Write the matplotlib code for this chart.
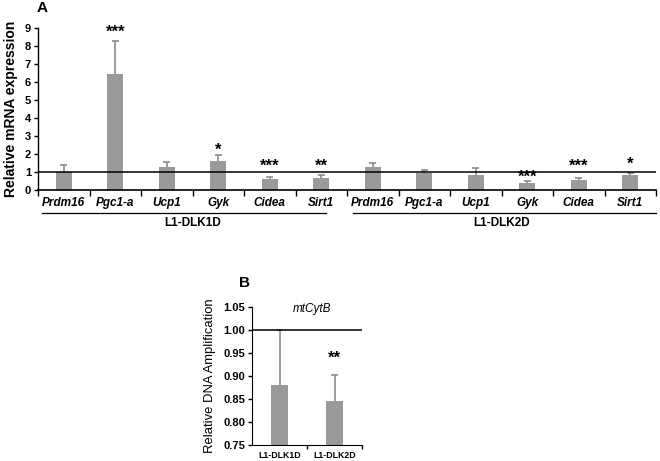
import matplotlib
matplotlib.use("Agg")
import matplotlib.pyplot as plt
import matplotlib.transforms as mtransforms
import numpy as np

plt.rcParams['font.family'] = ['Liberation Sans', 'DejaVu Sans']

genes = ["Prdm16", "Pgc1-a", "Ucp1", "Gyk", "Cidea", "Sirt1"]
groups = ["L1-DLK1D", "L1-DLK2D"]
dlk1_vals = [1.0, 6.45, 1.25, 1.6, 0.6, 0.68]
dlk1_err = [0.38, 1.85, 0.33, 0.35, 0.1, 0.14]
dlk1_sig = ["", "***", "", "*", "***", "**"]
dlk1_sig_y = [None, 8.85, None, 2.3, 1.39, 1.39]
dlk2_vals = [1.3, 0.93, 0.85, 0.4, 0.55, 0.85]
dlk2_err = [0.18, 0.17, 0.35, 0.1, 0.13, 0.09]
dlk2_sig = ["", "", "", "***", "***", "*"]
dlk2_sig_y = [None, None, None, 0.82, 1.39, 1.52]

b_labels = ["L1-DLK1D", "L1-DLK2D"]
b_vals = [0.88, 0.845]
b_err = [0.12, 0.057]
b_sig = ["", "**"]
b_sig_y = [None, 0.943]

bar_color = "#9a9a9a"
err_color = "#8c8c8c"

fig = plt.figure(figsize=(6.6, 4.61), dpi=100)


def up_errorbars(ax, xs, vals, errs, cap):
    xs = np.asarray(xs, dtype=float)
    tops = np.asarray(vals) + np.asarray(errs)
    ax.vlines(xs, vals, tops, color=err_color, lw=1.2, zorder=3)
    ax.hlines(tops, xs - cap / 2, xs + cap / 2, color=err_color, lw=1.2, zorder=3)


def stars(ax, xs, sigs, ys):
    for xi, s, yc in zip(xs, sigs, ys):
        if s and yc is not None:
            ax.annotate(s, (xi, yc), xytext=(0, -4.5), textcoords="offset points",
                        ha="center", va="baseline", fontsize=12, fontweight="bold")


# Panel A
axA = fig.add_axes([38 / 660, 1 - 190 / 461, 618 / 660, 162 / 461])
vals = dlk1_vals + dlk2_vals
errs = dlk1_err + dlk2_err
sigs = dlk1_sig + dlk2_sig
sig_y = dlk1_sig_y + dlk2_sig_y
labels = genes + genes
x = np.arange(len(vals))
axA.bar(x, vals, width=0.31, color=bar_color, zorder=2)
up_errorbars(axA, x, vals, errs, 0.13)
axA.axhline(1.0, color="black", lw=1.1, zorder=4)
stars(axA, x, sigs, sig_y)
axA.set_xlim(-0.47, 11.5)
axA.set_ylim(0, 9)
axA.set_yticks(range(0, 10))
axA.set_yticklabels([str(i) for i in range(0, 10)], fontsize=8, fontweight="bold")
axA.set_xticks(x)
axA.set_xticklabels(labels, fontsize=8.5, fontweight="bold", style="italic")
axA.tick_params(axis="x", which="major", length=0, pad=5)
axA.set_xticks(np.arange(-0.5, 12, 1.0), minor=True)
axA.tick_params(axis="x", which="minor", length=4, width=1, direction="out")
axA.tick_params(axis="y", length=3, width=1, pad=2)
for sp in ["top", "right"]:
    axA.spines[sp].set_visible(False)
axA.spines["left"].set_linewidth(1)
axA.spines["bottom"].set_linewidth(1.2)
axA.set_ylabel("Relative mRNA expression", fontsize=10, fontweight="bold", labelpad=5)
trans = mtransforms.blended_transform_factory(axA.transData, axA.transAxes)
axA.plot([-0.43, 5.1], [-0.142, -0.142], color="black", lw=0.9, transform=trans, clip_on=False)
axA.plot([5.62, 11.5], [-0.142, -0.142], color="black", lw=0.9, transform=trans, clip_on=False)
axA.text(2.5, -0.205, groups[0], transform=trans, ha="center", va="center", fontsize=8.5, fontweight="bold")
axA.text(8.5, -0.205, groups[1], transform=trans, ha="center", va="center", fontsize=8.5, fontweight="bold")
fig.text(37 / 660, 1 - 8 / 461, "A", fontsize=11, fontweight="bold", ha="left", va="center")

# Panel B
axB = fig.add_axes([252 / 660, 1 - 445 / 461, 110 / 660, 138 / 461])
xb = np.arange(len(b_vals))
axB.bar(xb, b_vals, width=0.3, color=bar_color, zorder=2)
up_errorbars(axB, xb, b_vals, b_err, 0.12)
axB.axhline(1.0, color="black", lw=1.1, zorder=4)
stars(axB, xb, b_sig, b_sig_y)
axB.text(0.6, 1.045, "mtCytB", ha="center", va="center", fontsize=8.5, style="italic")
axB.set_xlim(-0.5, 1.5)
axB.set_ylim(0.75, 1.05)
yt = [0.75, 0.80, 0.85, 0.90, 0.95, 1.00, 1.05]
axB.set_yticks(yt)
axB.set_yticklabels([f"{v:.2f}" for v in yt], fontsize=8, fontweight="bold")
axB.set_xticks(xb)
axB.set_xticklabels(b_labels, fontsize=6.3, fontweight="bold")
axB.tick_params(axis="x", which="major", length=0, pad=4)
axB.set_xticks([0.5, 1.5], minor=True)
axB.tick_params(axis="x", which="minor", length=3, width=1, direction="out")
axB.tick_params(axis="y", length=3, width=1, pad=2)
for sp in ["top", "right"]:
    axB.spines[sp].set_visible(False)
axB.set_ylabel("Relative DNA Amplification", fontsize=9.4, labelpad=5)
fig.text(245 / 660, 1 - 283 / 461, "B", fontsize=11, fontweight="bold", ha="center", va="center")

fig.savefig("out.png", dpi=100)
